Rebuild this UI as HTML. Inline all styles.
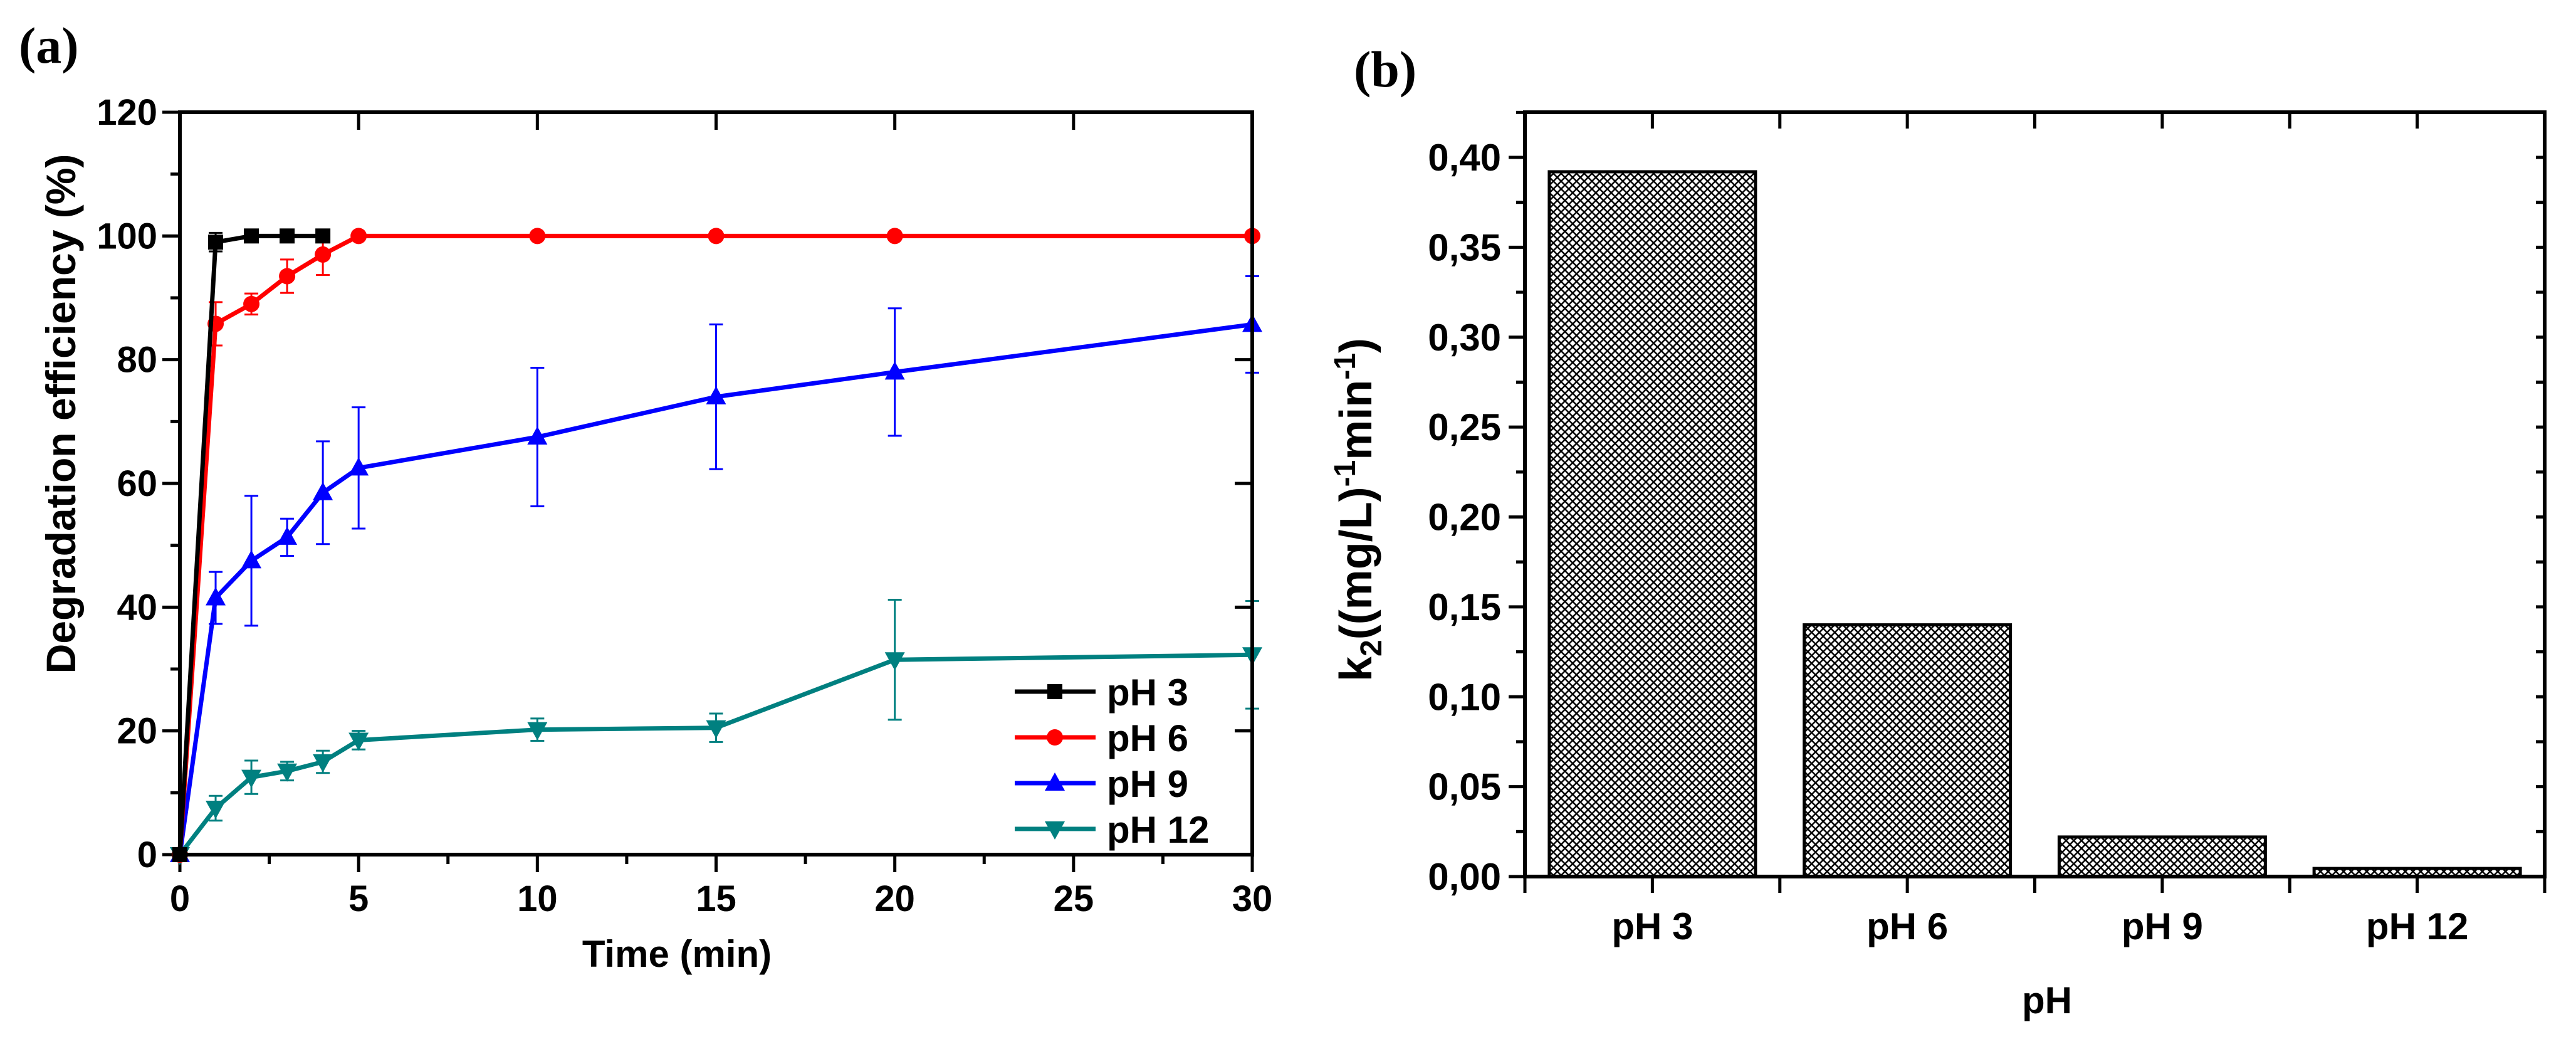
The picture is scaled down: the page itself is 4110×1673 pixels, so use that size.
<!DOCTYPE html>
<html><head><meta charset="utf-8"><style>
html,body{margin:0;padding:0;background:#fff;}
svg{display:block;}
.tk{font-family:"Liberation Sans Narrow","Liberation Sans",sans-serif;font-weight:bold;}
.tt{font-family:"Liberation Sans",sans-serif;font-weight:bold;}
.pl{font-family:"Liberation Serif",serif;font-weight:bold;}
</style></head><body>
<svg id="s" width="4110" height="1673" viewBox="0 0 4110 1673" xmlns="http://www.w3.org/2000/svg">
<defs>
<pattern id="hatch" patternUnits="userSpaceOnUse" width="12.3" height="12.3">
<rect width="12.3" height="12.3" fill="#fff"/>
<path d="M0,0 L12.3,12.3 M12.3,0 L0,12.3 M-3,9.3 L3,15.3 M9.3,-3 L15.3,3 M-3,3 L3,-3 M9.3,15.3 L15.3,9.3" stroke="#000" stroke-width="2.5"/>
</pattern>
</defs>
<g id="ga"></g>
<g id="gb"></g>
</svg>
<script>
// ---- Panel (a) data ----
const timesA = [0,1,2,3,4,5,10,15,20,30];
const timesPH3 = [0,1,2,3,4];
const valsPH3 = [0,99,100,100,100];
const errPH3 = [0,1.5,0,0,0];
const valsPH6 = [0,85.8,89,93.5,97,100,100,100,100,100];
const errPH6 = [0,3.5,1.7,2.7,3.3,0,0,0,0,0];
const valsPH9 = [0,41.5,47.5,51.3,58.5,62.5,67.5,74,78,85.7];
const errPH9 = [0,4.2,10.5,3,8.3,9.8,11.2,11.7,10.3,7.8];
const valsPH12 = [0,7.5,12.5,13.5,15,18.5,20.2,20.5,31.5,32.3];
const errPH12 = [0,2,2.7,1.5,1.8,1.5,1.8,2.3,9.7,8.7];
const xTicksA = [0,5,10,15,20,25,30];
const yTicksA = [0,20,40,60,80,100,120];
const legendLabels = ["pH 3","pH 6","pH 9","pH 12"];
// ---- Panel (b) data ----
const categoriesB = ["pH 3","pH 6","pH 9","pH 12"];
const valuesB = [0.392,0.14,0.022,0.0045];
const yTicksB = [0,0.05,0.10,0.15,0.20,0.25,0.30,0.35,0.40];
const yTickLabelsB = ["0,00","0,05","0,10","0,15","0,20","0,25","0,30","0,35","0,40"];

const NS="http://www.w3.org/2000/svg";
function mk(parent,tag,attrs,text){const e=document.createElementNS(NS,tag);for(const k in attrs)e.setAttribute(k,attrs[k]);if(text!==undefined)e.textContent=text;parent.appendChild(e);return e;}

// ===== Panel A =====
const ga=document.getElementById('ga');
const AX0=287,AX1=1998,AY0=1363,AY1=179;
const xa=v=>AX0+(v-0)/30*(AX1-AX0);
const ya=v=>AY0-(v/120)*(AY0-AY1);
let t=mk(ga,'text',{x:30,y:100,'font-size':82,class:'pl'},'(a)');

for(let v=0;v<=30;v+=2.5){const maj=v%5===0;
 let l=mk(ga,'line',{x1:xa(v),x2:xa(v),y1:AY0,y2:AY0+(maj?28:15),stroke:'#000','stroke-width':5});
 
 if(maj){let l2=mk(ga,'line',{x1:xa(v),x2:xa(v),y1:AY1,y2:AY1+28,stroke:'#000','stroke-width':5});
 }}
for(let v=0;v<=120;v+=10){const maj=v%20===0;
 let l=mk(ga,'line',{x1:AX0,x2:AX0-(maj?28:15),y1:ya(v),y2:ya(v),stroke:'#000','stroke-width':5});
 
 if(maj){let l2=mk(ga,'line',{x1:AX1,x2:AX1-28,y1:ya(v),y2:ya(v),stroke:'#000','stroke-width':5});
 }}
xTicksA.forEach(v=>{let e=mk(ga,'text',{x:xa(v),y:AY0+90,'font-size':58,'text-anchor':'middle',class:'tk'},String(v));
 });
yTicksA.forEach(v=>{let e=mk(ga,'text',{x:AX0-36,y:ya(v)+20,'font-size':58,'text-anchor':'end',class:'tk'},String(v));
 });
t=mk(ga,'text',{x:1080,y:1542,'font-size':60,'text-anchor':'middle',class:'tk'},'Time (min)');

t=mk(ga,'text',{x:0,y:0,'font-size':66,'text-anchor':'middle',class:'tt',transform:'translate(120,660) rotate(-90)'},'Degradation efficiency (%)');


function marker(g,type,x,y,c){
 if(type==='sq')return mk(g,'rect',{x:x-12,y:y-12,width:24,height:24,fill:c});
 if(type==='ci')return mk(g,'circle',{cx:x,cy:y,r:13,fill:c});
 if(type==='up')return mk(g,'path',{d:`M${x},${y-17} L${x+16},${y+12} L${x-16},${y+12} Z`,fill:c});
 return mk(g,'path',{d:`M${x},${y+17} L${x+16},${y-12} L${x-16},${y-12} Z`,fill:c});
}
const series=[
 {name:'ph12',t:timesA,v:valsPH12,e:errPH12,c:'#008080',m:'dn'},
 {name:'ph9',t:timesA,v:valsPH9,e:errPH9,c:'#0000ff',m:'up'},
 {name:'ph6',t:timesA,v:valsPH6,e:errPH6,c:'#ff0000',m:'ci'},
 {name:'ph3',t:timesPH3,v:valsPH3,e:errPH3,c:'#000000',m:'sq'}];
series.forEach(s=>{
 const g=mk(ga,'g',{});
 s.t.forEach((tt,i)=>{if(s.e[i]>0){const x=xa(tt);
  let eb=mk(g,'path',{d:`M${x},${ya(s.v[i]-s.e[i])} V${ya(s.v[i]+s.e[i])} M${x-11},${ya(s.v[i]-s.e[i])} H${x+11} M${x-11},${ya(s.v[i]+s.e[i])} H${x+11}`,stroke:s.c,'stroke-width':3,fill:'none'});
  }});
 let ln=mk(g,'polyline',{points:s.t.map((tt,i)=>xa(tt)+','+ya(s.v[i])).join(' '),fill:'none',stroke:s.c,'stroke-width':7,'stroke-linejoin':'round'});
 
 s.t.forEach((tt,i)=>{let mm=marker(g,s.m,xa(tt),ya(s.v[i]),s.c);
  });
});
const legCols=['#000000','#ff0000','#0000ff','#008080'],legM=['sq','ci','up','dn'],legY=[1103,1176,1249,1322];
legendLabels.forEach((lab,i)=>{const g=mk(ga,'g',{});
 mk(g,'line',{x1:1619,x2:1748,y1:legY[i],y2:legY[i],stroke:legCols[i],'stroke-width':7});
 marker(g,legM[i],1683,legY[i],legCols[i]);
 mk(g,'text',{x:1766,y:legY[i]+22,'font-size':60,class:'tk'},lab);});
let fr=mk(ga,'rect',{x:AX0,y:AY1,width:AX1-AX0,height:AY0-AY1,fill:'none',stroke:'#000','stroke-width':6});


// ===== Panel B =====
const gb=document.getElementById('gb');
const BX0=2433,BX1=4060,BY0=1398,BY1=179;
const band=(BX1-BX0)/categoriesB.length;
const yb=v=>BY0-v/0.40*(BY0-251);
t=mk(gb,'text',{x:2160,y:138,'font-size':82,class:'pl'},'(b)');

valuesB.forEach((v,i)=>{const cx=BX0+(i+0.5)*band,w=329;
 let r=mk(gb,'rect',{x:cx-w/2,y:yb(v),width:w,height:BY0-yb(v),fill:'url(#hatch)',stroke:'#000','stroke-width':5});
 });
for(let k=0;k<=categoriesB.length*2;k++){const x=BX0+k*band/2;
 let l=mk(gb,'line',{x1:x,x2:x,y1:BY0,y2:BY0+26,stroke:'#000','stroke-width':5});
 let l2=mk(gb,'line',{x1:x,x2:x,y1:BY1,y2:BY1+26,stroke:'#000','stroke-width':5});}
for(let k=0;k<=17;k++){const v=k*0.025,maj=k%2===0;if(yb(v)<BY1)continue;
 let l=mk(gb,'line',{x1:BX0,x2:BX0-(maj?26:14),y1:yb(v),y2:yb(v),stroke:'#000','stroke-width':5});
 let l2=mk(gb,'line',{x1:BX1,x2:BX1-14,y1:yb(v),y2:yb(v),stroke:'#000','stroke-width':5});}
yTicksB.forEach((v,i)=>{let e=mk(gb,'text',{x:BX0-38,y:yb(v)+21,'font-size':60,'text-anchor':'end',class:'tk'},yTickLabelsB[i]);
 });
categoriesB.forEach((c,i)=>{let e=mk(gb,'text',{x:BX0+(i+0.5)*band,y:1498,'font-size':60,'text-anchor':'middle',class:'tk'},c);
 });
t=mk(gb,'text',{x:3266,y:1616,'font-size':60,'text-anchor':'middle',class:'tk'},'pH');

t=mk(gb,'text',{x:0,y:0,'font-size':72,'text-anchor':'middle',class:'tt',transform:'translate(2188,813) rotate(-90)'});

t.innerHTML='k<tspan dy="16" font-size="48">2</tspan><tspan dy="-16">((mg/L)</tspan><tspan dy="-26" font-size="48">-1</tspan><tspan dy="26">min</tspan><tspan dy="-26" font-size="48">-1</tspan><tspan dy="26">)</tspan>';
fr=mk(gb,'rect',{x:BX0,y:BY1,width:BX1-BX0,height:BY0-BY1,fill:'none',stroke:'#000','stroke-width':6});

</script>
</body></html>
